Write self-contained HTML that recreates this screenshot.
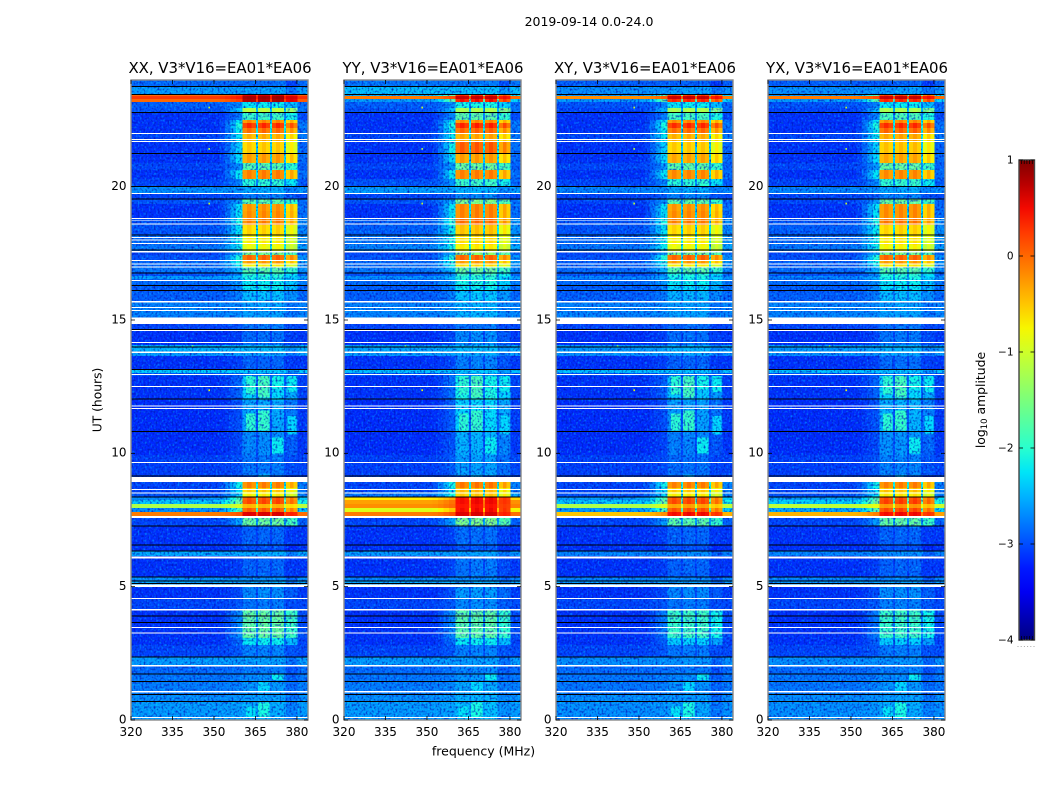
<!DOCTYPE html>
<html lang="en">
<head>
<meta charset="utf-8">
<title>2019-09-14 0.0-24.0</title>
<style>
html,body{margin:0;padding:0;background:#fff;}
svg{display:block;}
text{font-family:"DejaVu Sans","Liberation Sans",sans-serif;fill:#000;}
</style>
</head>
<body>
<svg id="figure" xmlns="http://www.w3.org/2000/svg" width="1050" height="800" viewBox="0 0 1050 800">
  <defs>
    <filter id="grain-light" x="0" y="0" width="1" height="1" color-interpolation-filters="sRGB">
      <feTurbulence type="fractalNoise" baseFrequency="0.55 0.45" numOctaves="1" seed="3"/>
      <feColorMatrix type="matrix" values="0 0 0 0 0  0 0 0 0 0.5  0 0 0 0 1  2.4 0 0 0 -1.2"/>
    </filter>
    <filter id="grain-dark" x="0" y="0" width="1" height="1" color-interpolation-filters="sRGB">
      <feTurbulence type="fractalNoise" baseFrequency="0.5 0.45" numOctaves="1" seed="11"/>
      <feColorMatrix type="matrix" values="0 0 0 0 0  0 0 0 0 0.08  0 0 0 0 0.72  0 2.4 0 0 -1.12"/>
    </filter>
    <linearGradient id="jet-gradient" x1="0" y1="1" x2="0" y2="0"></linearGradient>
  </defs>
  <text x="589" y="26" text-anchor="middle" font-size="12.5">2019-09-14 0.0-24.0</text>
  <text x="98" y="400" text-anchor="middle" font-size="12.3" dominant-baseline="middle" transform="rotate(-90 98 400)">UT (hours)</text>
  <text x="483.5" y="755.5" text-anchor="middle" font-size="12.5">frequency (MHz)</text>
  <text x="985" y="400" text-anchor="middle" font-size="12.4" transform="rotate(-90 985 400)">log<tspan font-size="8.5" dy="2">10</tspan><tspan dy="-2"> amplitude</tspan></text>
</svg>
<script>
/* ---- axis tick labels ---- */
const freqTicks = [320, 335, 350, 365, 380];
const hourTicks = [0, 5, 10, 15, 20];
const colorbarTicks = [1, 0, -1, -2, -3, -4];
const panelNames = ['XX', 'YY', 'XY', 'YX'];
const panelTitle = ', V3*V16=EA01*EA06';

/* ---- frequency bins (MHz): edges, share of in-band signal, per-bin trim ---- */
const freqEdges = [320,352,354,356,358,360.4,362,363.6,365.2,365.9,367.4,368.8,370.3,371,372.5,373.9,375.4,376,377.4,378.8,380.2,384];
const freqWeight = [0,.03,.1,.2,.3,.95,1,.95,.3,.95,1,.95,.3,.95,1,.95,.3,.92,1,.92,.1];
const freqTrim = [0,0,0,0,0,0,0,0,0,.03,.03,.03,0,.03,.03,.03,0,-.2,-.2,-.2,0];

/* ---- time bands: upper edge of each band in UT hours ---- */
const bandTop = [24,23.74,23.46,23.4,23.29,23.18,22.95,22.76,22.5,22.39,
22.2,22.01,21.68,21.26,20.89,20.63,20.29,19.99,19.76,19.54,
19.35,19.09,18.83,18.56,18.19,17.81,17.55,17.44,17.25,17.1,
16.99,16.8,16.65,16.54,16.31,16.09,15.68,15.08,14.85,14.63,
14.06,13.8,13.65,13.16,13.01,12.9,12,10.8,9.94,9.15,
8.93,8.7,8.55,8.36,8.25,8.1,7.95,7.8,7.65,7.58,
7.28,6.56,6.34,6.15,5.36,5.21,4.99,4.58,4.13,3.08,
2.81,2.36,2.03,1.73,1.46,.94,.71];

/* ---- log10 amplitude per band: off-band and in-band, each polarisation ---- */
const offXX = [-2.86,-2.62,0,.25,0,-2.92,-2.98,-3.15,-3.15,-3.15,
-3.15,-3.05,-3.15,-3.15,-3.05,-3.15,-3.05,-2.68,-3.05,-2.98,
-3.15,-3.15,-2.98,-2.98,-2.86,-2.8,-3.05,-2.98,-2.86,-2.86,
-2.8,-2.98,-2.62,-2.86,-2.92,-2.92,-2.74,-3.05,-3.05,-3.15,
-2.5,-2.62,-3.15,-2.38,-2.98,-3.15,-3.18,-3.18,-3.08,-3.05,
-3.05,-3.05,-2.98,-2.68,-2.4,-1.2,-2.68,-.1,-2.74,-3.05,
-3.15,-3.15,-2.56,-3.15,-2.68,-2.56,-3.15,-3.05,-3.15,-3.15,
-3.05,-2.62,-2.86,-2.8,-2.77,-2.68,-2.62];
const sigXX = [-2.86,-2.62,.6,.85,.8,-2.2,-1.1,-1.9,-.15,.35,
0,-.35,-.5,-.25,-1.75,-.1,-2,-2.55,-2.75,-1.7,
-.2,-.15,-.1,-.55,-.7,-.8,-1.5,.05,-.25,-.7,
-1.7,-2,-2.1,-2.2,-2.2,-2.45,-2.6,-3.05,-2.8,-2.85,
-2.45,-2.6,-2.9,-2.4,-2.75,-2.3,-2.55,-2.7,-2.8,-3.05,
-.1,-.5,-.7,.15,.2,-.4,.1,.6,-1,-1.6,
-2.9,-3,-2.56,-2.9,-2.68,-2.56,-2.7,-2.8,-1.65,-2.2,
-2.75,-2.62,-2.78,-2.7,-2.65,-2.6,-2.55];
const offYY = [-2.8,-2.45,-2.5,-.1,-2.6,-2.92,-2.98,-3.15,-3.15,-3.15,
-3.15,-3.05,-3.15,-3.15,-3.05,-3.15,-2.98,-2.62,-3.05,-2.98,
-3.15,-3.15,-2.92,-2.92,-2.8,-2.74,-3.05,-2.98,-2.86,-2.86,
-2.8,-2.98,-2.68,-2.86,-2.92,-2.92,-2.74,-3.05,-3.05,-3.15,
-2.56,-2.62,-3.15,-2.45,-2.98,-3.15,-3.18,-3.18,-3.08,-3.05,
-3.05,-3.05,-2.8,-.7,-.3,-.2,-.9,-.1,-2.6,-3.05,
-3.15,-3.15,-2.62,-3.15,-2.74,-2.56,-3.15,-3.05,-3.15,-3.15,
-3.05,-2.62,-2.86,-2.8,-2.77,-2.68,-2.62];
const sigYY = [-2.8,-2.45,.4,.7,.5,-2.1,-1.2,-1.7,-.15,.4,
.05,-.3,.1,-.25,-1.6,-.1,-1.9,-2.5,-2.7,-1.5,
-.1,-.1,0,-.45,-.6,-.7,-1.4,.05,-.25,-.6,
-1.6,-1.9,-2.05,-2.1,-2.2,-2.4,-2.5,-3.05,-2.8,-2.7,
-2.45,-2.55,-2.75,-2.4,-2.6,-2.1,-2.3,-2.5,-2.6,-3.05,
-.05,-.4,-.5,.5,.5,.45,.5,.6,-.9,-1.5,
-2.85,-2.95,-2.6,-2.8,-2.68,-2.56,-2.62,-2.7,-1.7,-2.2,
-2.75,-2.62,-2.72,-2.65,-2.55,-2.5,-2.45];
const offXY = [-2.92,-2.68,-2.62,-.2,-2.62,-2.98,-3.05,-3.15,-3.15,-3.15,
-3.15,-3.05,-3.15,-3.15,-3.05,-3.15,-3.05,-2.74,-3.05,-3.05,
-3.15,-3.15,-2.98,-2.98,-2.86,-2.8,-3.05,-2.98,-2.92,-2.92,
-2.86,-2.98,-2.74,-2.86,-2.92,-2.92,-2.74,-3.05,-3.05,-3.15,
-2.62,-2.68,-3.15,-2.45,-2.98,-3.15,-3.18,-3.18,-3.08,-3.05,
-3.05,-3.05,-2.98,-2.62,-2.4,-1.2,-2.62,-.5,-2.8,-3.05,
-3.15,-3.15,-2.74,-3.15,-2.74,-2.62,-3.15,-3.05,-3.15,-3.15,
-3.05,-2.68,-2.86,-2.8,-2.8,-2.68,-2.68];
const sigXY = [-2.92,-2.62,.3,.7,.4,-2.2,-1.2,-1.85,-.15,.35,
0,-.35,-.5,-.3,-1.7,-.15,-2,-2.55,-2.75,-1.7,
-.2,-.15,-.1,-.55,-.7,-.8,-1.5,.05,-.25,-.7,
-1.7,-2.05,-2.15,-2.2,-2.3,-2.5,-2.6,-3.05,-2.85,-2.85,
-2.5,-2.6,-2.9,-2.45,-2.75,-2.4,-2.6,-2.75,-2.85,-3.05,
-.1,-.5,-.7,.15,.2,-.3,.15,.5,-1.1,-1.7,
-2.9,-3,-2.7,-2.9,-2.74,-2.62,-2.72,-2.8,-1.9,-2.35,
-2.8,-2.68,-2.8,-2.72,-2.68,-2.65,-2.6];
const offYX = [-2.92,-2.68,-2.62,-.1,-2.62,-2.98,-3.05,-3.15,-3.15,-3.15,
-3.15,-3.05,-3.15,-3.15,-3.05,-3.15,-3.05,-2.74,-3.05,-3.05,
-3.15,-3.15,-2.98,-2.92,-2.86,-2.8,-3.05,-2.98,-2.92,-2.92,
-2.86,-2.98,-2.74,-2.86,-2.92,-2.92,-2.74,-3.05,-3.05,-3.15,
-2.62,-2.68,-3.15,-2.45,-2.98,-3.15,-3.18,-3.18,-3.08,-3.05,
-3.05,-3.05,-2.98,-2.56,-2.35,-1.1,-2.56,-.4,-2.8,-3.05,
-3.15,-3.15,-2.74,-3.15,-2.74,-2.62,-3.15,-3.05,-3.15,-3.15,
-3.05,-2.68,-2.86,-2.8,-2.8,-2.68,-2.68];
const sigYX = [-2.92,-2.62,.3,.7,.4,-2.2,-1.2,-1.8,-.15,.35,
.05,-.3,-.45,-.3,-1.65,-.15,-1.95,-2.55,-2.75,-1.6,
-.15,-.15,-.05,-.55,-.65,-.75,-1.5,.05,-.25,-.65,
-1.7,-2,-2.1,-2.2,-2.25,-2.45,-2.6,-3.05,-2.82,-2.8,
-2.5,-2.6,-2.85,-2.45,-2.7,-2.3,-2.5,-2.65,-2.75,-3.05,
-.1,-.45,-.65,.2,.25,-.25,.2,.5,-1.05,-1.65,
-2.9,-3,-2.7,-2.9,-2.74,-2.62,-2.68,-2.75,-1.9,-2.35,
-2.77,-2.68,-2.77,-2.7,-2.65,-2.6,-2.55];
const offBand = [offXX, offYY, offXY, offYX];
const inBand = [sigXX, sigYY, sigXY, sigYX];

/* ---- brighter in-band patches during quiet hours ---- */
const patchFreqLow = [361.5,366,371,376.5,361.5,366,371,376.5,366,371,361.5,366,366];
const patchFreqHigh = [365,370,375.2,379.8,365,370,375.2,379.8,370,375.2,365,370,370];
const patchTop = [12.9,12.9,12.9,12.9,11.5,11.6,10.6,11.4,1.42,1.7,.5,.65,9.2];
const patchBottom = [12.2,12.1,12.4,12.3,10.85,10.85,10,10.7,1.08,1.5,.1,.1,8.99];
const patchValue = [-2,-1.85,-2.15,-2.2,-2,-1.95,-2.2,-2.3,-2.3,-2.2,-2.25,-2.1,-2.5];

/* ---- flagged (white) spans: upper and lower UT hour ---- */
const flagTop = [22.01,21.79,21.71,19.76,18.83,18.74,18.62,18.11,18.02,17.89,17.59,17.25,17.12,17.01,16.5,15.71,15.49,15.38,15.09,14.63,14.18,13.82,12.98,12.53,11.79,11.7,9.68,9.12,8.66,8.53,7.65,6.13,5.08,4.58,4.16,3.49,3.28,2.06,1.08,.11];
const flagBottom = [21.97,21.75,21.68,19.73,18.79,18.71,18.58,18.08,17.98,17.85,17.54,17.21,17.08,16.97,16.46,15.66,15.45,15.34,14.85,14.59,14.14,13.77,12.94,12.49,11.76,11.66,9.64,8.93,8.63,8.49,7.58,6.06,4.99,4.53,4.11,3.45,3.24,2.01,1.04,.08];

/* ---- zero-amplitude (black) scans: UT hour ---- */
const deadHours = [23.75,23.45,22.79,21.24,20,19.53,18.18,17.63,16.77,16.29,16.1,14.65,13.98,13.15,12.03,10.81,9.15,8.37,7.28,6.56,6.34,5.37,5.22,5.12,3.9,3.65,2.37,1.73,1.45,.96,.7];

/* ---- isolated bright samples ---- */
const hotFreq = [348,348,348,348,342];
const hotHour = [23,21.45,19.4,12.4,14.05];
const hotValue = [-1,-1.2,-1,-.8,-1.4];

const NS = 'http://www.w3.org/2000/svg';
const svg = document.getElementById('figure');
const FREQ_MIN = 320, FREQ_MAX = 384, HOUR_MAX = 24;
const AXIS_TOP = 80, AXIS_BOTTOM = 720, AXIS_WIDTH = 177;
const panelLeft = [131, 344, 556, 768];
const CB_LEFT = 1019, CB_WIDTH = 15.5, CB_TOP = 160, CB_BOTTOM = 640, CB_MIN = -4, CB_MAX = 1;

function hourY(h){ return AXIS_BOTTOM - (h / HOUR_MAX) * (AXIS_BOTTOM - AXIS_TOP); }
function freqX(left, f){ return left + (f - FREQ_MIN) / (FREQ_MAX - FREQ_MIN) * AXIS_WIDTH; }
function cbY(v){ return CB_BOTTOM - (v - CB_MIN) / (CB_MAX - CB_MIN) * (CB_BOTTOM - CB_TOP); }

function ramp(t, pts){
  for (let i = 1; i < pts.length; i++) {
    if (t <= pts[i][0]) {
      const a = pts[i-1], b = pts[i];
      return a[1] + (b[1]-a[1]) * (t-a[0]) / (b[0]-a[0]);
    }
  }
  return pts[pts.length-1][1];
}
function jet(v){
  const t = Math.max(0, Math.min(1, (v - CB_MIN) / (CB_MAX - CB_MIN)));
  const r = ramp(t, [[0,0],[.35,0],[.66,1],[.89,1],[1,.5]]);
  const g = ramp(t, [[0,0],[.125,0],[.375,1],[.64,1],[.91,0],[1,0]]);
  const b = ramp(t, [[0,.5],[.11,1],[.34,1],[.65,0],[1,0]]);
  return 'rgb(' + Math.round(r*255) + ',' + Math.round(g*255) + ',' + Math.round(b*255) + ')';
}
function make(tag, attrs, parent){
  const el = document.createElementNS(NS, tag);
  for (const k in attrs) el.setAttribute(k, attrs[k]);
  (parent || svg).appendChild(el);
  return el;
}

panelNames.forEach(function(pol, p){
  const left = panelLeft[p];
  const offs = offBand[p];
  const sigs = inBand[p];

  const panel = make('g', {});
  
  

  const low = make('g', {'shape-rendering': 'crispEdges'}, panel);
  
  

  const high = make('g', {'shape-rendering': 'crispEdges'});
  
  

  bandTop.forEach(function(top, b){
    const bottom = b + 1 < bandTop.length ? bandTop[b + 1] : 0;
    const yTop = hourY(top), yBottom = hourY(bottom);
    freqWeight.forEach(function(weight, c){
      const value = offs[b] + (sigs[b] - offs[b]) * weight + freqTrim[c];
      const x0 = freqX(left, freqEdges[c]), x1 = freqX(left, freqEdges[c + 1]);
      const cell = make('rect', {x: x0.toFixed(2), y: yTop.toFixed(2), width: (x1 - x0).toFixed(2), height: (yBottom - yTop).toFixed(2), fill: jet(value)}, value > -1.4 ? high : low);
      
      
    });
  });

  patchValue.forEach(function(v, i){
    const x0 = freqX(left, patchFreqLow[i]), x1 = freqX(left, patchFreqHigh[i]);
    const y0 = hourY(patchTop[i]), y1 = hourY(patchBottom[i]);
    const patch = make('rect', {x: x0.toFixed(2), y: y0.toFixed(2), width: (x1 - x0).toFixed(2), height: (y1 - y0).toFixed(2), fill: jet(v)}, low);
    
    
  });

  const grainLight = make('rect', {x: left, y: AXIS_TOP, width: AXIS_WIDTH, height: AXIS_BOTTOM - AXIS_TOP, filter: 'url(#grain-light)', style: 'mix-blend-mode:screen'}, panel);
  
  

  const grainDark = make('rect', {x: left, y: AXIS_TOP, width: AXIS_WIDTH, height: AXIS_BOTTOM - AXIS_TOP, filter: 'url(#grain-dark)'}, panel);
  
  

  panel.appendChild(high);

  hotFreq.forEach(function(f, i){
    const hot = make('rect', {x: freqX(left, f).toFixed(2), y: hourY(hotHour[i]).toFixed(2), width: 1.5, height: 1.8, fill: jet(hotValue[i])}, panel);
    
    
  });

  flagTop.forEach(function(t, i){
    const y0 = hourY(t), y1 = hourY(flagBottom[i]);
    const flag = make('rect', {x: left, y: y0.toFixed(2), width: AXIS_WIDTH, height: (y1 - y0).toFixed(2), fill: '#fff', 'shape-rendering': 'crispEdges'}, panel);
    
    
  });

  deadHours.forEach(function(h){
    const dead = make('rect', {x: left, y: (hourY(h) - .5).toFixed(2), width: AXIS_WIDTH, height: 1, fill: '#000', 'shape-rendering': 'crispEdges'}, panel);
    
    
  });

  const frame = make('rect', {x: left, y: AXIS_TOP, width: AXIS_WIDTH, height: AXIS_BOTTOM - AXIS_TOP, fill: 'none', stroke: '#8a8a8a', 'stroke-width': 1.4}, panel);
  
  

  freqTicks.forEach(function(f){
    const x = freqX(left, f);
    const tickB = make('line', {x1: x, x2: x, y1: AXIS_BOTTOM, y2: AXIS_BOTTOM - 4, stroke: '#000', 'stroke-width': .8}, panel);
    
    
    const tickT = make('line', {x1: x, x2: x, y1: AXIS_TOP, y2: AXIS_TOP + 4, stroke: '#000', 'stroke-width': .8}, panel);
    
    
    const label = make('text', {x: x, y: 736, 'text-anchor': 'middle', 'font-size': 12}, panel);
    
    
    label.textContent = String(f);
  });

  hourTicks.forEach(function(h){
    const y = hourY(h);
    const tickL = make('line', {x1: left, x2: left + 4, y1: y, y2: y, stroke: '#000', 'stroke-width': .8}, panel);
    
    
    const tickR = make('line', {x1: left + AXIS_WIDTH, x2: left + AXIS_WIDTH - 4, y1: y, y2: y, stroke: '#000', 'stroke-width': .8}, panel);
    
    
    const label = make('text', {x: left - 4.5, y: y + 3.3, 'text-anchor': 'end', 'font-size': 12}, panel);
    
    
    label.textContent = String(h);
  });

  const title = make('text', {x: left + AXIS_WIDTH / 2 + .5, y: 73, 'text-anchor': 'middle', 'font-size': 14.9}, panel);
  
  
  title.textContent = pol + panelTitle;
});

/* colorbar */
const gradient = document.getElementById('jet-gradient');
const gradientLevels = [-4,-3.75,-3.5,-3.25,-3,-2.75,-2.5,-2.25,-2,-1.75,-1.5,-1.25,-1,-.75,-.5,-.25,0,.25,.5,.75,1];
gradientLevels.forEach(function(v){
  make('stop', {offset: ((v - CB_MIN) / (CB_MAX - CB_MIN)).toFixed(3), 'stop-color': jet(v)}, gradient);
});
const colorbar = make('g', {});


const cbFill = make('rect', {x: CB_LEFT, y: CB_TOP, width: CB_WIDTH, height: CB_BOTTOM - CB_TOP, fill: 'url(#jet-gradient)', stroke: '#444', 'stroke-width': 1.4}, colorbar);


colorbarTicks.forEach(function(v){
  const y = cbY(v);
  const tickL = make('line', {x1: CB_LEFT, x2: CB_LEFT + 4, y1: y, y2: y, stroke: '#000', 'stroke-width': .8}, colorbar);
  
  
  const tickR = make('line', {x1: CB_LEFT + CB_WIDTH, x2: CB_LEFT + CB_WIDTH - 4, y1: y, y2: y, stroke: '#000', 'stroke-width': .8}, colorbar);
  
  
  const label = make('text', {x: CB_LEFT - 5.5, y: y + 3.5, 'text-anchor': 'end', 'font-size': 10.5}, colorbar);
  
  
  label.textContent = v < 0 ? '\u2212' + Math.abs(v) : String(v);
});
const cbMinorSlots = [0, 1, 2, 3, 4];
cbMinorSlots.forEach(function(i){
  const x = CB_LEFT + 2.5 + i * 2.7;
  const topMark = make('line', {x1: x, x2: x, y1: CB_TOP, y2: CB_TOP + 4, stroke: '#000', 'stroke-width': .7}, colorbar);
  
  
  const bottomMark = make('line', {x1: x, x2: x, y1: CB_BOTTOM, y2: CB_BOTTOM - 4, stroke: '#000', 'stroke-width': .7}, colorbar);
  
  
});
const cbDotSlots = [0, 1, 2, 3, 4, 5];
cbDotSlots.forEach(function(i){
  const dot = make('rect', {x: 1017.5 + i * 3.2, y: 646, width: 1, height: 1, fill: '#aaa'}, colorbar);
  
  
});
</script>
</body>
</html>
